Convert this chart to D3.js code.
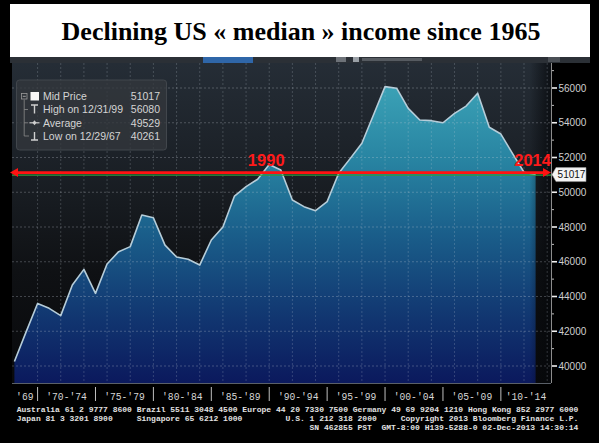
<!DOCTYPE html>
<html>
<head>
<meta charset="utf-8">
<script src="https://cdn.jsdelivr.net/npm/d3@7"></script>
<style>
  html, body { margin: 0; padding: 0; background: #000; }
  svg { display: block; }
  .mono { font-family: "Liberation Mono", "DejaVu Sans Mono", monospace; white-space: pre; }
</style>
</head>
<body>
<svg id="chart" width="599" height="443"></svg>
<script>
// Real median household income, year-end observations
const years = [1967, 1968, 1969, 1970, 1971, 1972, 1973, 1974, 1975, 1976,
               1977, 1978, 1979, 1980, 1981, 1982, 1983, 1984, 1985, 1986,
               1987, 1988, 1989, 1990, 1991, 1992, 1993, 1994, 1995, 1996,
               1997, 1998, 1999, 2000, 2001, 2002, 2003, 2004, 2005, 2006,
               2007, 2008, 2009, 2010, 2011, 2012];
const income = [40261, 41950, 43600, 43320, 42900, 44660, 45560, 44180, 45870, 46580,
                46870, 48690, 48530, 46960, 46270, 46140, 45810, 47250, 48000, 49780,
                50320, 50750, 51600, 51280, 49550, 49170, 48940, 49460, 51090, 51950,
                52820, 54450, 56080, 55990, 54830, 54160, 54120, 54000, 54540, 54960,
                55700, 53740, 53350, 52240, 51150, 51017];

// Right axis
const yTicks = [40000, 42000, 44000, 46000, 48000, 50000, 52000, 54000, 56000];
const yMinorTicks = [39000, 41000, 43000, 45000, 47000, 49000, 51000, 53000, 55000, 57000];

// Bottom axis: five-year groups, each ending at the given year
const periodLabels = ["'69", "'70-'74", "'75-'79", "'80-'84", "'85-'89", "'90-'94", "'95-'99", "'00-'04", "'05-'09", "'10-'14"];
const periodEnds = [1969, 1974, 1979, 1984, 1989, 1994, 1999, 2004, 2009, 2014];

// Legend
const legendLabels = ["Mid Price", "High on 12/31/99", "Average", "Low on 12/29/67"];
const legendValues = [51017, 56080, 49529, 40261];

// Annotations on the mid-price line
const markerLabels = ["1990", "2014"];
const markerYears = [1989, 2012];

const titleText = "Declining US \u00AB median \u00BB income since 1965";

const footerLines = [
  "Australia 61 2 9777 8600 Brazil 5511 3048 4500 Europe 44 20 7330 7500 Germany 49 69 9204 1210 Hong Kong 852 2977 6000",
  "Japan 81 3 3201 8900     Singapore 65 6212 1000         U.S. 1 212 318 2000     Copyright 2013 Bloomberg Finance L.P.",
  "SN 462855 PST  GMT-8:00 H139-5288-0 02-Dec-2013 14:30:14"
];
const footerIndent = [0, 0, 61];

const data = years.map((yr, i) => ({ date: new Date(yr, 11, 31), v: income[i] }));

const svg = d3.select("#chart");
const plot = { left: 12, right: 551, top: 63, bottom: 383 };

const x = d3.scaleTime()
  .domain([new Date(1967, 9, 16), new Date(2014, 3, 30)])
  .range([plot.left, plot.right]);
const y = d3.scaleLinear().domain([40000, 56000]).range([366, 88]);

const defs = svg.append("defs");

const bg = defs.append("linearGradient").attr("id", "bgGrad")
  .attr("gradientUnits", "userSpaceOnUse")
  .attr("x1", 0).attr("x2", 0).attr("y1", plot.top).attr("y2", plot.bottom);
[["0%", "#252d36"], ["35%", "#1a1f25"], ["65%", "#0f1114"], ["100%", "#08090b"]]
  .forEach(([o, c]) => bg.append("stop").attr("offset", o).attr("stop-color", c));

const ag = defs.append("linearGradient").attr("id", "areaGrad")
  .attr("gradientUnits", "userSpaceOnUse")
  .attr("x1", 0).attr("x2", 0).attr("y1", 85).attr("y2", plot.bottom);
[["0%", "#3ba2b6"], ["25%", "#2884a2"], ["50%", "#1a5e8a"], ["75%", "#123a73"], ["100%", "#0b195d"]]
  .forEach(([o, c]) => ag.append("stop").attr("offset", o).attr("stop-color", c));

const fade = defs.append("linearGradient").attr("id", "fadeGrad")
  .attr("x1", 0).attr("x2", 1).attr("y1", 0).attr("y2", 0);
fade.append("stop").attr("offset", "0%").attr("stop-color", "#05070a").attr("stop-opacity", 0);
fade.append("stop").attr("offset", "100%").attr("stop-color", "#05070a").attr("stop-opacity", 0.75);

defs.append("clipPath").attr("id", "plotClip")
  .append("rect").attr("x", plot.left).attr("y", plot.top)
  .attr("width", plot.right - plot.left).attr("height", plot.bottom - plot.top);

// Page background
svg.append("rect").attr("width", 599).attr("height", 443).attr("fill", "#000");

// Plot background
svg.append("rect")
  .attr("x", plot.left).attr("y", plot.top)
  .attr("width", plot.right - plot.left).attr("height", plot.bottom - plot.top)
  .attr("fill", "url(#bgGrad)");

const g = svg.append("g").attr("clip-path", "url(#plotClip)");

// Filled area under the income line
g.append("path").datum(data)
  .attr("fill", "url(#areaGrad)")
  .attr("d", d3.area().x(d => x(d.date)).y0(plot.bottom).y1(d => y(d.v)));

// Soft edge where the series ends
const lastX = x(data[data.length - 1].date);
g.append("rect")
  .attr("x", lastX - 6).attr("y", plot.top)
  .attr("width", plot.right - lastX + 6).attr("height", plot.bottom - plot.top)
  .attr("fill", "url(#fadeGrad)");

// Grid
const gridColor = "#c9d2da";
g.selectAll(".hgrid").data(yTicks).join("line")
  .attr("x1", plot.left).attr("x2", plot.right)
  .attr("y1", d => y(d)).attr("y2", d => y(d))
  .attr("stroke", gridColor).attr("stroke-opacity", 0.28)
  .attr("stroke-width", 1).attr("stroke-dasharray", "2,2");

const vGridYears = d3.range(1969, 2014, 2);
g.selectAll(".vgrid").data(vGridYears).join("line")
  .attr("x1", d => x(new Date(d, 11, 31))).attr("x2", d => x(new Date(d, 11, 31)))
  .attr("y1", plot.top).attr("y2", plot.bottom)
  .attr("stroke", gridColor).attr("stroke-opacity", 0.22)
  .attr("stroke-width", 1).attr("stroke-dasharray", "2,2");

// Income line
g.append("path").datum(data)
  .attr("fill", "none")
  .attr("stroke", "#b6cdd9")
  .attr("stroke-width", 1.6)
  .attr("stroke-linejoin", "round")
  .attr("d", d3.line().x(d => x(d.date)).y(d => y(d.v)));

// Mid-price level line
const mid = legendValues[0];
svg.append("line")
  .attr("x1", plot.left).attr("x2", plot.right)
  .attr("y1", y(mid) + 0.5).attr("y2", y(mid) + 0.5)
  .attr("stroke", "#2f9a3a").attr("stroke-width", 1.4);

// Red double-headed arrow along the mid-price level
const ry = y(mid) - 2;
svg.append("line")
  .attr("x1", 15).attr("x2", plot.right - 4)
  .attr("y1", ry).attr("y2", ry)
  .attr("stroke", "#ff1212").attr("stroke-width", 2.6);
svg.append("path")
  .attr("d", `M10,${ry} L18,${ry - 4.5} L18,${ry + 4.5} Z`)
  .attr("fill", "#ff1212");
svg.append("path")
  .attr("d", `M${plot.right},${ry} L${plot.right - 8},${ry - 4.5} L${plot.right - 8},${ry + 4.5} Z`)
  .attr("fill", "#ff1212");

svg.selectAll(".marker").data(markerLabels).join("text")
  .attr("x", (d, i) => x(new Date(markerYears[i], 11, 31)) - 3)
  .attr("y", ry - 7)
  .attr("text-anchor", "middle")
  .attr("font-family", "Liberation Sans, Arial, sans-serif")
  .attr("font-weight", "bold")
  .attr("font-size", 16.5)
  .attr("fill", "#ff1a1a")
  .text(d => d);

// Right axis
svg.append("line")
  .attr("x1", plot.right + 0.5).attr("x2", plot.right + 0.5)
  .attr("y1", plot.top).attr("y2", plot.bottom)
  .attr("stroke", "#8c8c8c").attr("stroke-width", 1);
svg.append("line")
  .attr("x1", plot.left).attr("x2", plot.right)
  .attr("y1", plot.bottom + 0.5).attr("y2", plot.bottom + 0.5)
  .attr("stroke", "#5a6068").attr("stroke-width", 1);

svg.selectAll(".ytick").data(yTicks).join("line")
  .attr("x1", plot.right + 1).attr("x2", plot.right + 6)
  .attr("y1", d => y(d)).attr("y2", d => y(d))
  .attr("stroke", "#f0f0f0").attr("stroke-width", 1.6);
svg.selectAll(".yminor").data(yMinorTicks.filter(v => y(v) > plot.top && y(v) < plot.bottom)).join("line")
  .attr("x1", plot.right + 1).attr("x2", plot.right + 3)
  .attr("y1", d => y(d)).attr("y2", d => y(d))
  .attr("stroke", "#bdbdbd").attr("stroke-width", 1);
svg.selectAll(".ylabel").data(yTicks).join("text")
  .attr("x", plot.right + 7.5)
  .attr("y", d => y(d))
  .attr("dy", "0.36em")
  .attr("font-family", "Liberation Sans, Arial, sans-serif")
  .attr("font-size", 10)
  .attr("fill", "#cfcfcf")
  .text(d => d);

// Last-value tag
const tagY = y(mid);
svg.append("path")
  .attr("d", `M${plot.right + 1},${tagY} L${plot.right + 5},${tagY - 7} L${plot.right + 35},${tagY - 7} L${plot.right + 35},${tagY + 7} L${plot.right + 5},${tagY + 7} Z`)
  .attr("fill", "#f4f4f4").attr("stroke", "#999").attr("stroke-width", 0.6);
svg.append("text")
  .attr("x", plot.right + 20.5).attr("y", tagY).attr("dy", "0.36em")
  .attr("text-anchor", "middle")
  .attr("font-family", "Liberation Sans, Arial, sans-serif")
  .attr("font-size", 10)
  .attr("fill", "#111")
  .text(mid);

// Bottom axis: period separators and labels
const sepX = periodEnds.slice(0, -1).map(yr => x(new Date(yr, 11, 31)));
svg.selectAll(".sep").data(sepX).join("line")
  .attr("x1", d => d).attr("x2", d => d)
  .attr("y1", 387).attr("y2", 401)
  .attr("stroke", "#bfbfbf").attr("stroke-width", 1);
svg.selectAll(".period").data(periodLabels).join("text")
  .attr("class", "mono")
  .attr("x", (d, i) => {
    const a = i === 0 ? plot.left : x(new Date(periodEnds[i - 1], 11, 31));
    const b = Math.min(plot.right, x(new Date(periodEnds[i], 11, 31)));
    return (a + b) / 2;
  })
  .attr("y", 399.5)
  .attr("text-anchor", "middle")
  .attr("font-size", 11)
  .attr("textLength", d => d.length * 5.8)
  .attr("lengthAdjust", "spacingAndGlyphs")
  .attr("fill", "#d6d6d6")
  .text(d => d);

// Footer lines on a fixed character grid (8px mono = 4.8px per character)
const charW = 4.8;
svg.selectAll(".footer").data(footerLines).join("text")
  .attr("class", "mono")
  .attr("x", (d, i) => 16.7 + footerIndent[i] * charW)
  .attr("y", (d, i) => 411.5 + i * 9)
  .attr("font-size", 8)
  .attr("font-weight", "bold")
  .attr("fill", "#e2e2e2")
  .text(d => d);

// Legend panel
const lg = svg.append("g");
lg.append("rect")
  .attr("x", 16.5).attr("y", 80).attr("width", 150).attr("height", 70).attr("rx", 3)
  .attr("fill", "#33373c").attr("fill-opacity", 0.78)
  .attr("stroke", "#41464c").attr("stroke-width", 1);
const rowY = [96.5, 109.5, 122.8, 136];
lg.selectAll(".lgl").data(legendLabels).join("text")
  .attr("x", 43).attr("y", (d, i) => rowY[i]).attr("dy", "0.36em")
  .attr("font-family", "Liberation Sans, Arial, sans-serif")
  .attr("font-size", 10.5).attr("fill", "#d4d4d4")
  .text(d => d);
lg.selectAll(".lgv").data(legendValues).join("text")
  .attr("x", 160).attr("y", (d, i) => rowY[i]).attr("dy", "0.36em")
  .attr("text-anchor", "end")
  .attr("font-family", "Liberation Sans, Arial, sans-serif")
  .attr("font-size", 10.5).attr("fill", "#d4d4d4")
  .text(d => d);
// legend icons
const ic = "#cfcfcf";
lg.append("rect").attr("x", 21.5).attr("y", rowY[0] - 3).attr("width", 5.5).attr("height", 5.5)
  .attr("fill", "none").attr("stroke", "#9a9a9a").attr("stroke-width", 0.8);
lg.append("line").attr("x1", 22.8).attr("x2", 25.8).attr("y1", rowY[0] - 0.2).attr("y2", rowY[0] - 0.2)
  .attr("stroke", "#bbb").attr("stroke-width", 0.8);
lg.append("rect").attr("x", 30.5).attr("y", rowY[0] - 4.5).attr("width", 8.5).attr("height", 8.5)
  .attr("fill", "#f6f6f6");
lg.append("path")
  .attr("d", `M24.2,${rowY[0] + 3} V${rowY[3]} H29 M24.2,${rowY[1]} H28 M24.2,${rowY[2]} H28`)
  .attr("fill", "none").attr("stroke", "#8a8a8a").attr("stroke-width", 0.8);
lg.append("path")
  .attr("d", `M31,${rowY[1] - 4.5} H38 M34.5,${rowY[1] - 4.5} V${rowY[1] + 4}`)
  .attr("fill", "none").attr("stroke", ic).attr("stroke-width", 1.4);
lg.append("path")
  .attr("d", `M29.5,${rowY[2]} H39.5`)
  .attr("fill", "none").attr("stroke", ic).attr("stroke-width", 1.2);
lg.append("path")
  .attr("d", `M34.5,${rowY[2] - 2.5} L36.5,${rowY[2]} L34.5,${rowY[2] + 2.5} L32.5,${rowY[2]} Z`)
  .attr("fill", ic);
lg.append("path")
  .attr("d", `M34.5,${rowY[3] - 4} V${rowY[3] + 4} M31,${rowY[3] + 4} H38`)
  .attr("fill", "none").attr("stroke", ic).attr("stroke-width", 1.4);

// Toolbar strip just under the title banner
const tb = svg.append("g");
tb.append("rect").attr("x", 10).attr("y", 55).attr("width", 580).attr("height", 8).attr("fill", "#2b3036");
tb.append("rect").attr("x", 203).attr("y", 55).attr("width", 50).attr("height", 8).attr("fill", "#2f66a8");
tb.append("rect").attr("x", 336).attr("y", 57).attr("width", 10).attr("height", 5).attr("fill", "#6d7278");
tb.append("rect").attr("x", 353).attr("y", 57).attr("width", 6).attr("height", 5).attr("fill", "#9aa0a6");
tb.append("rect").attr("x", 362).attr("y", 58).attr("width", 60).attr("height", 3).attr("fill", "#565b61");
tb.append("rect").attr("x", 548).attr("y", 57).attr("width", 12).attr("height", 5).attr("fill", "#4a4f55");

// Title banner
svg.append("rect").attr("x", 10).attr("y", 4).attr("width", 580).attr("height", 53).attr("fill", "#ffffff");
svg.append("text")
  .attr("x", 301).attr("y", 40)
  .attr("text-anchor", "middle")
  .attr("font-family", "Liberation Serif, 'Times New Roman', serif")
  .attr("font-weight", "bold")
  .attr("font-size", 26)
  .attr("fill", "#000")
  .text(titleText);
</script>
</body>
</html>
